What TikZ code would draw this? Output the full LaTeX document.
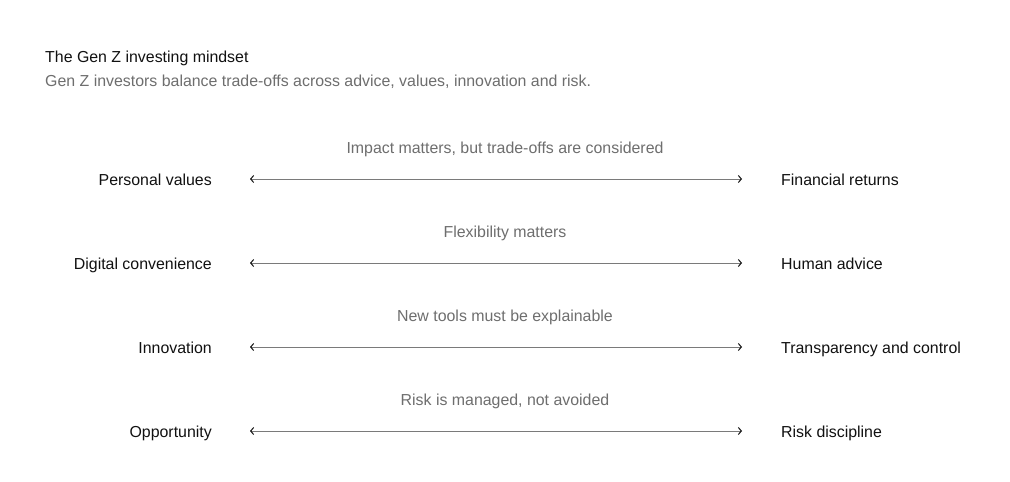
\documentclass[tikz,border=0pt]{standalone}
\usepackage{fontspec}
\setmainfont{Liberation Sans}
\usetikzlibrary{arrows.meta}

\definecolor{inkdark}{HTML}{111111}
\definecolor{inkgray}{HTML}{6E6E6E}
\definecolor{linegray}{HTML}{7A7A7A}

\tikzset{
    side/.style={inner sep=0pt, text=inkdark, font=\fontsize{15.9}{18}\selectfont},
    note/.style={inner sep=0pt, text=inkgray, font=\fontsize{15.9}{18}\selectfont},
    pole/.style={draw=linegray, line width=1pt,
        {Straight Barb[length=3pt,width=7pt,color=inkdark]}-{Straight Barb[length=3pt,width=7pt,color=inkdark]},
        shorten <=38pt, shorten >=39pt}
}

\begin{document}
\begin{tikzpicture}[x=1pt,y=-1pt]
        \useasboundingbox[fill=white] (0,0) rectangle (1010,482);

        \node[side, anchor=base west] (title) at (45,62) {The Gen Z investing mindset};
        \node[note, anchor=base west] (subtitle) at (45,86) {Gen Z investors balance trade-offs across advice, values, innovation and risk.};

        \node[note, anchor=base] (n1) at (505,153) {Impact matters, but trade-offs are considered};
        \node[side, anchor=base east] (l1) at (212,185) {Personal values};          \node[side, anchor=base west] (r1) at (781,185) {Financial returns};

        \node[note, anchor=base] (n2) at (505,237) {Flexibility matters};
        \node[side, anchor=base east] (l2) at (212,269) {Digital convenience};      \node[side, anchor=base west] (r2) at (781,269) {Human advice};

        \node[note, anchor=base] (n3) at (505,321) {New tools must be explainable};
        \node[side, anchor=base east] (l3) at (212,353) {Innovation};               \node[side, anchor=base west] (r3) at (781,353) {Transparency and control};

        \node[note, anchor=base] (n4) at (505,405) {Risk is managed, not avoided};
        \node[side, anchor=base east] (l4) at (212,437) {Opportunity};              \node[side, anchor=base west] (r4) at (781,437) {Risk discipline};

        \draw[pole] (l1.east |- 0,179) -- (r1.west |- 0,179);
        \draw[pole] (l2.east |- 0,263) -- (r2.west |- 0,263);
        \draw[pole] (l3.east |- 0,347) -- (r3.west |- 0,347);
        \draw[pole] (l4.east |- 0,431) -- (r4.west |- 0,431);

    \end{tikzpicture}
\end{document}
